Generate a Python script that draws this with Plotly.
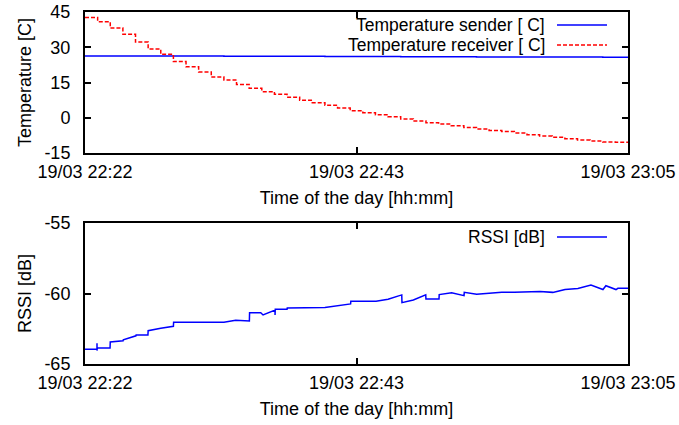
import pandas as pd
import plotly.graph_objects as go

# ---------------- data ----------------
DAY = "2013-03-19"
START = pd.Timestamp(f"{DAY} 22:22:00")
END = pd.Timestamp(f"{DAY} 23:05:00")

# temperature samples, one per minute from 22:22
temp_minute_offsets = list(range(44))
temp_receiver = [42.7, 40.9, 38.2, 35.5, 32.2, 29.3, 27.0, 23.9, 21.7, 19.5,
                 17.3, 16.1, 14.2, 12.5, 11.1, 10.0, 8.7, 7.4, 6.4, 5.3,
                 4.1, 3.0, 2.15, 1.3, 0.45, -0.5, -1.4, -2.1, -2.7, -3.4,
                 -4.2, -4.8, -5.4, -5.9, -6.5, -7.2, -7.8, -8.3, -8.9, -9.5,
                 -9.9, -10.3, -10.4, -10.4]
temp_sender = [26.3, 26.3, 26.3, 26.3, 26.3, 26.3, 26.3, 26.3, 26.3, 26.3,
               26.3, 26.2, 26.2, 26.2, 26.2, 26.2, 26.2, 26.2, 26.2, 26.1,
               26.1, 26.1, 26.1, 26.1, 26.1, 26.0, 26.0, 26.0, 26.0, 26.0,
               26.0, 25.9, 25.9, 25.9, 25.9, 25.9, 25.8, 25.8, 25.8, 25.8,
               25.8, 25.7, 25.7, 25.7]

# RSSI samples (seconds after 22:22:00)
rssi_seconds = [0, 57, 57, 57, 58, 119, 120, 181, 182, 242, 243, 299, 300, 360,
                420, 421, 660, 716, 781, 782, 835, 846, 903, 903, 904, 960, 961,
                1140, 1262, 1263, 1383, 1440, 1505, 1506, 1560, 1619, 1620, 1682,
                1683, 1742, 1801, 1802, 1861, 1980, 2040, 2162, 2223, 2281, 2342,
                2404, 2461, 2475, 2523, 2532, 2580]
rssi_values = [-63.96, -63.96, -63.53, -64.05, -63.87, -63.87, -63.44, -63.35, -63.28,
               -63.00, -62.94, -62.94, -62.64, -62.47, -62.33, -62.04, -62.04, -61.90,
               -61.95, -61.36, -61.36, -61.52, -61.17, -61.52, -61.12, -61.12, -61.03,
               -61.00, -60.74, -60.55, -60.55, -60.41, -60.10, -60.65, -60.46, -60.10,
               -60.39, -60.39, -60.08, -59.94, -60.15, -59.92, -60.06, -59.92, -59.92,
               -59.85, -59.92, -59.72, -59.65, -59.40, -59.72, -59.45, -59.72, -59.63,
               -59.63]

x_tick_times = ["22:22:00", "22:43:30", "23:05:00"]
x_tick_labels = ["19/03 22:22", "19/03 22:43", "19/03 23:05"]
temp_ticks = [-15, 0, 15, 30, 45]
temp_tick_labels = ["-15", "0", "15", "30", "45"]
rssi_ticks = [-65, -60, -55]
rssi_tick_labels = ["-65", "-60", "-55"]

temp_x = [START + pd.Timedelta(minutes=m) for m in temp_minute_offsets]
rssi_x = [START + pd.Timedelta(seconds=s) for s in rssi_seconds]
tick_vals = [pd.Timestamp(f"{DAY} {t}") for t in x_tick_times]

# ---------------- figure ----------------
FONT = "Liberation Sans, Arial, Helvetica, sans-serif"
FS = 18
BLUE = "#0000ff"
RED = "#ff0000"

fig = go.Figure()
fig.add_trace(go.Scatter(x=temp_x, y=temp_sender, mode="lines", line_shape="hv",
                         line=dict(color=BLUE, width=1.5), xaxis="x", yaxis="y"))
fig.add_trace(go.Scatter(x=temp_x, y=temp_receiver, mode="lines", line_shape="hv",
                         line=dict(color=RED, width=1.5, dash="4px,2px"),
                         xaxis="x", yaxis="y"))
fig.add_trace(go.Scatter(x=rssi_x, y=rssi_values, mode="lines",
                         line=dict(color=BLUE, width=1.5), xaxis="x2", yaxis="y2"))

W, H = 679, 425
L, R, T, B = 85, 51, 12, 61
ph = H - T - B
top_dom = [(H - B - 153) / ph, 1.0]
bot_dom = [0.0, (H - B - 223) / ph]

axis_common = dict(showline=True, linewidth=2, linecolor="black", mirror="ticks",
                   ticks="inside", ticklen=6, tickwidth=2, tickcolor="black",
                   showgrid=False, zeroline=False, automargin=False,
                   tickfont=dict(family=FONT, size=FS, color="black"))

xcommon = dict(axis_common, type="date", range=[START, END], tickvals=tick_vals,
               ticktext=x_tick_labels, ticklabelstandoff=1,
               title=dict(text="Time of the day [hh:mm]",
                          font=dict(family=FONT, size=FS, color="black"), standoff=11))

fig.update_layout(
    width=W, height=H,
    margin=dict(l=L, r=R, t=T, b=B),
    paper_bgcolor="white", plot_bgcolor="white",
    showlegend=False,
    font=dict(family=FONT, size=FS, color="black"),
    xaxis=dict(xcommon, anchor="y"),
    yaxis=dict(axis_common, domain=top_dom, range=[-15, 45], tickvals=temp_ticks,
               ticktext=temp_tick_labels, anchor="x", ticklabelstandoff=9,
               title=dict(text="Temperature [C]", standoff=8,
                          font=dict(family=FONT, size=FS, color="black"))),
    xaxis2=dict(xcommon, anchor="y2"),
    yaxis2=dict(axis_common, domain=bot_dom, range=[-65, -55], tickvals=rssi_ticks,
                ticktext=rssi_tick_labels, anchor="x2", ticklabelstandoff=9,
                title=dict(text="RSSI [dB]", standoff=8,
                           font=dict(family=FONT, size=FS, color="black"))),
)

# gnuplot-style key: right-aligned text with line sample on its right
def px_x(px):
    return (px - L) / (W - L - R)

def px_y(py):
    return (H - B - py) / ph

legend_items = [
    ("Temperature sender [ C]", 25, BLUE, "solid"),
    ("Temperature receiver [ C]", 45, RED, "4px,2px"),
    ("RSSI [dB]", 237, BLUE, "solid"),
]
for text, py, color, dash in legend_items:
    fig.add_annotation(x=px_x(546), y=px_y(py), xref="paper", yref="paper",
                       text=text, showarrow=False, xanchor="right", yanchor="middle",
                       borderpad=0,
                       font=dict(family=FONT, size=17.5, color="black"))
    fig.add_shape(type="line", xref="paper", yref="paper",
                  x0=px_x(557), x1=px_x(607), y0=px_y(py), y1=px_y(py),
                  line=dict(color=color, width=1.5, dash=dash))

fig.write_html("out.html", config={"displayModeBar": False},
               post_script="document.body.style.margin='0px';document.body.style.padding='0px';")
